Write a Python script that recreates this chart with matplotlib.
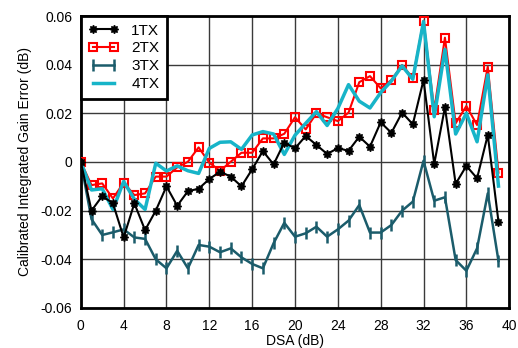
import matplotlib.pyplot as plt

plt.rcParams['font.family'] = ['Liberation Sans', 'DejaVu Sans']

# DSA settings (dB)
dsa = list(range(40))

# Calibrated integrated gain error (dB)
tx1 = [0, -0.020, -0.014, -0.017, -0.031, -0.017, -0.028, -0.020, -0.010, -0.018,
       -0.012, -0.011, -0.007, -0.004, -0.006, -0.010, -0.003, 0.0045, -0.001, 0.008,
       0.0056, 0.0107, 0.007, 0.0033, 0.0057, 0.0046, 0.0104, 0.0063, 0.0163, 0.012,
       0.0203, 0.0155, 0.0337, -0.0008, 0.0225, -0.009, -0.0016, -0.0067, 0.0111, -0.0246]
tx2 = [0, -0.0095, -0.0088, -0.015, -0.0085, -0.0136, -0.0129, -0.006, -0.006, -0.0022,
       0.0001, 0.006, -0.0003, -0.0036, 0.0001, 0.0038, 0.0038, 0.0097, 0.0097, 0.0116,
       0.0184, 0.0134, 0.020, 0.0184, 0.0168, 0.0203, 0.0328, 0.0353, 0.0303, 0.0337,
       0.0399, 0.0344, 0.0581, 0.0214, 0.0511, 0.0159, 0.023, 0.0152, 0.0392, -0.0044]
tx3 = [0, -0.0235, -0.030, -0.0289, -0.0277, -0.031, -0.0316, -0.040, -0.0437, -0.0365,
       -0.0437, -0.0341, -0.0348, -0.0371, -0.0355, -0.0392, -0.0419, -0.0437, -0.0334, -0.025,
       -0.0307, -0.0293, -0.0266, -0.0307, -0.0277, -0.0241, -0.0177, -0.029, -0.029, -0.0259,
       -0.020, -0.0163, 0.0005, -0.0159, -0.0145, -0.0403, -0.0447, -0.0355, -0.0129, -0.0407]
tx4 = [0, -0.0115, -0.011, -0.0195, -0.008, -0.0153, -0.0195, -0.0005, -0.0037, -0.0016,
       -0.0036, -0.0047, 0.0056, 0.0081, 0.0083, 0.0052, 0.0111, 0.0125, 0.0115, 0.0031,
       0.011, 0.0159, 0.0207, 0.015, 0.022, 0.0318, 0.0250, 0.0222, 0.0285, 0.0333,
       0.0395, 0.0340, 0.0577, 0.0186, 0.0463, 0.0115, 0.020, 0.0083, 0.0358, -0.0099]

fig = plt.figure(figsize=(5.18, 3.48), dpi=100)
ax = fig.add_axes([0.156, 0.115, 0.827, 0.839])

ax.plot(dsa, tx1, color='black', lw=1.5, marker=(8, 1, 0), markersize=6, label='1TX', zorder=4)
ax.plot(dsa, tx2, color='#ff0000', lw=1.5, marker='s', markersize=6, markerfacecolor='none',
        markeredgewidth=1.5, label='2TX', zorder=3)
ax.plot(dsa, tx3, color='#1b5c6b', lw=1.8, marker='|', markersize=8, markeredgewidth=1.8,
        label='3TX', zorder=2)
ax.plot(dsa, tx4, color='#17b4c8', lw=2.5, label='4TX', zorder=3)

ax.set_xlim(0, 40)
ax.set_ylim(-0.06, 0.06)
ax.set_xticks(range(0, 41, 4))
ax.set_yticks([-0.06, -0.04, -0.02, 0, 0.02, 0.04, 0.06])
ax.set_yticklabels(['-0.06', '-0.04', '-0.02', '0', '0.02', '0.04', '0.06'])
ax.tick_params(length=0, labelsize=10)
ax.tick_params(axis='x', pad=8)
ax.tick_params(axis='y', pad=6)
ax.grid(True, color='#3a3a3a', lw=1.0)
ax.set_axisbelow(True)
for s in ax.spines.values():
    s.set_linewidth(2)
    s.set_color('black')

ax.set_xlabel('DSA (dB)', fontsize=10, labelpad=1)
ax.set_ylabel('Calibrated Integrated Gain Error (dB)', fontsize=10, labelpad=6)

leg = ax.legend(loc='upper left', fontsize=11, borderaxespad=0, fancybox=False,
                framealpha=1, edgecolor='black', handlelength=2.0, labelspacing=0.25,
                borderpad=0.5, handletextpad=0.8, numpoints=2)
leg.get_frame().set_linewidth(2)

fig.savefig('out.png', dpi=100)
